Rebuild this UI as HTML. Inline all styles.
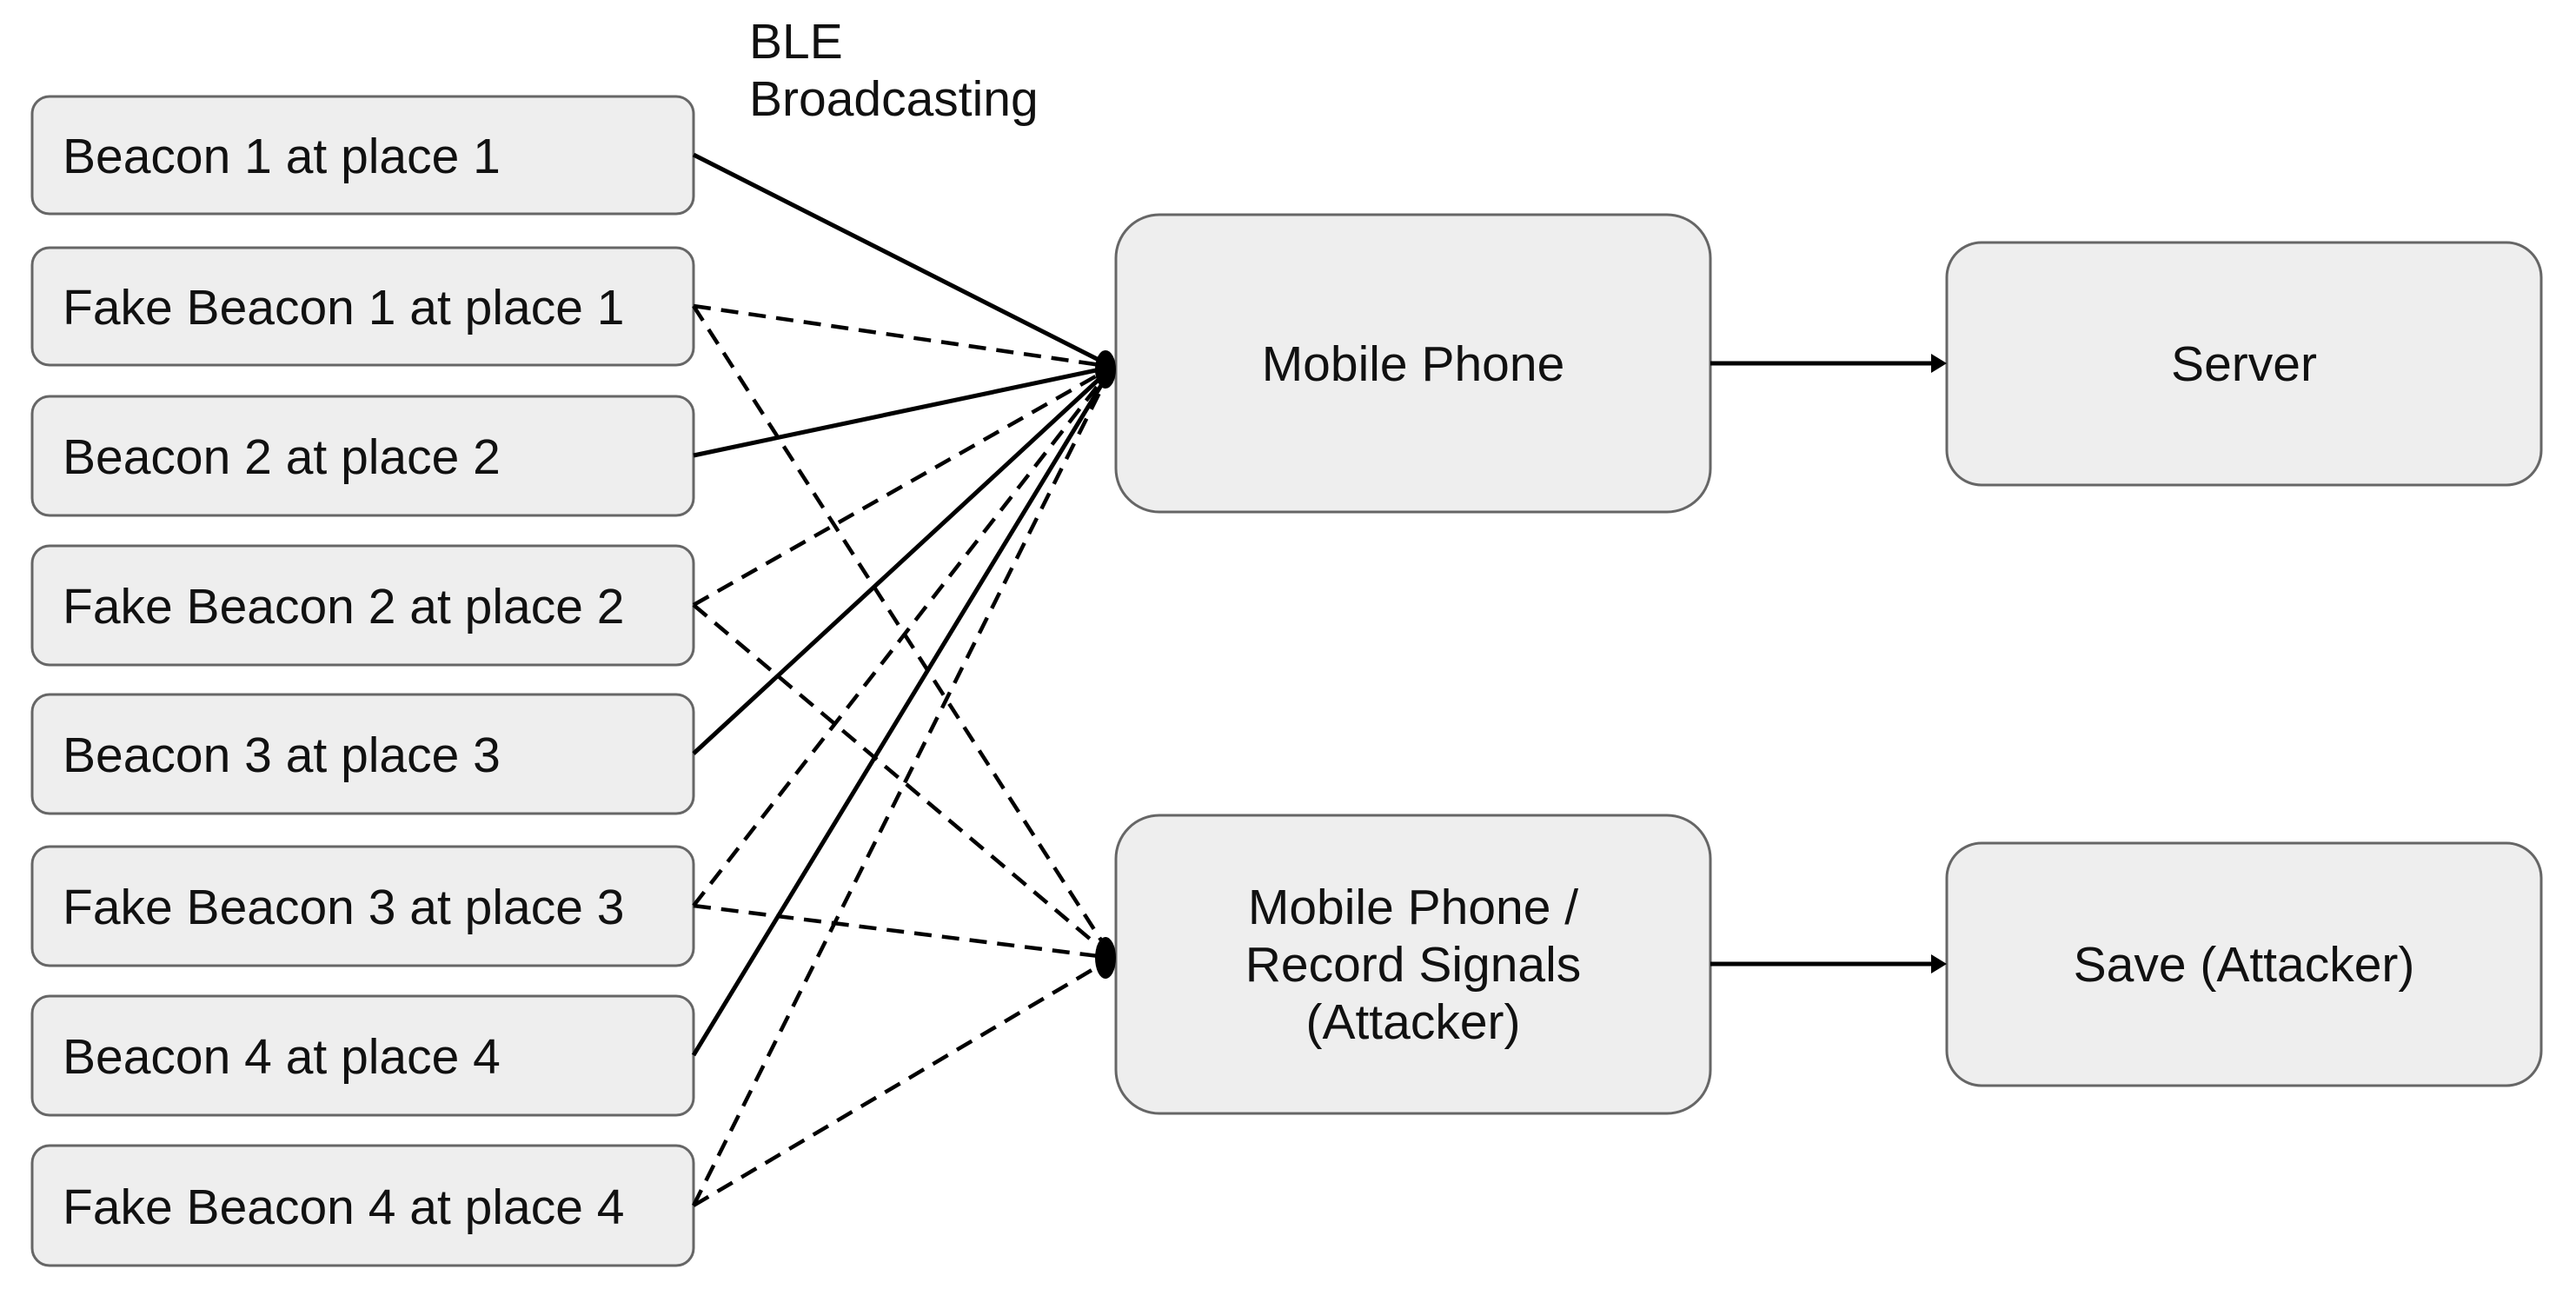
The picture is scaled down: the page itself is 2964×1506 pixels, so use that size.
<!DOCTYPE html>
<html><head><style>
body{margin:0;background:#fff;width:2964px;height:1501px;overflow:hidden}
svg text{font-family:"Liberation Sans",Arial,sans-serif;fill:#111}
</style></head><body>
<svg width="2964" height="1501" xmlns="http://www.w3.org/2000/svg">
<g fill="#eeeeee" stroke="#666" stroke-width="3">
<rect x="37" y="111" width="761" height="135" rx="20"/>
<rect x="37" y="285" width="761" height="135" rx="20"/>
<rect x="37" y="456" width="761" height="137" rx="20"/>
<rect x="37" y="628" width="761" height="137" rx="20"/>
<rect x="37" y="799" width="761" height="137" rx="20"/>
<rect x="37" y="974" width="761" height="137" rx="20"/>
<rect x="37" y="1146" width="761" height="137" rx="20"/>
<rect x="37" y="1318" width="761" height="138" rx="20"/>
<rect x="1284" y="247" width="684" height="342" rx="50"/>
<rect x="1284" y="938" width="684" height="343" rx="50"/>
<rect x="2240" y="279" width="684" height="279" rx="40"/>
<rect x="2240" y="970" width="684" height="279" rx="40"/>
</g>
<g font-size="57">
<text x="72" y="199">Beacon 1 at place 1</text>
<text x="72" y="373">Fake Beacon 1 at place 1</text>
<text x="72" y="545">Beacon 2 at place 2</text>
<text x="72" y="717">Fake Beacon 2 at place 2</text>
<text x="72" y="888">Beacon 3 at place 3</text>
<text x="72" y="1063">Fake Beacon 3 at place 3</text>
<text x="72" y="1235">Beacon 4 at place 4</text>
<text x="72" y="1408">Fake Beacon 4 at place 4</text>
<text x="1626" y="438" text-anchor="middle">Mobile Phone</text>
<text x="2582" y="438" text-anchor="middle">Server</text>
<text x="1626" y="1063" text-anchor="middle">Mobile Phone /</text>
<text x="1626" y="1129" text-anchor="middle">Record Signals</text>
<text x="1626" y="1195" text-anchor="middle">(Attacker)</text>
<text x="2582" y="1129" text-anchor="middle">Save (Attacker)</text>
<text x="862" y="67">BLE</text>
<text x="862" y="133">Broadcasting</text>
</g>
<g stroke="#000" stroke-width="5" fill="none">
<line x1="798" y1="178" x2="1280" y2="422"/>
<line x1="798" y1="524" x2="1280" y2="422"/>
<line x1="798" y1="867" x2="1280" y2="422"/>
<line x1="798" y1="1214" x2="1280" y2="422"/>
</g>
<g stroke="#000" stroke-width="4.5" fill="none" stroke-dasharray="20 12">
<line x1="798" y1="352" x2="1280" y2="422"/>
<line x1="798" y1="696" x2="1280" y2="422"/>
<line x1="798" y1="1042" x2="1280" y2="422"/>
<line x1="798" y1="1387" x2="1280" y2="422"/>
<line x1="798" y1="352" x2="1280" y2="1102"/>
<line x1="798" y1="696" x2="1280" y2="1102"/>
<line x1="798" y1="1042" x2="1280" y2="1102"/>
<line x1="798" y1="1387" x2="1280" y2="1102"/>
</g>
<ellipse cx="1272" cy="425" rx="12" ry="22" fill="#000"/>
<ellipse cx="1272" cy="1102" rx="12" ry="24" fill="#000"/>
<g stroke="#000" stroke-width="5">
<line x1="1968" y1="418" x2="2226" y2="418"/>
<line x1="1968" y1="1109" x2="2226" y2="1109"/>
</g>
<path d="M2222,407 L2240,418 L2222,429 z" fill="#000"/>
<path d="M2222,1098 L2240,1109 L2222,1120 z" fill="#000"/>
</svg>
</body></html>
